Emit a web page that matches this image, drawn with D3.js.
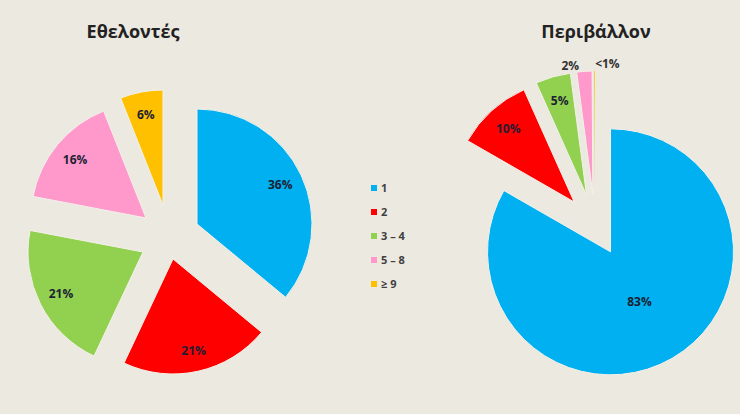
<!DOCTYPE html>
<html>
<head>
<meta charset="utf-8">
<script src="https://cdn.jsdelivr.net/npm/d3@7"></script>
<style>
  html, body { margin: 0; padding: 0; background: #ece9e1; }
  svg { display: block; }
  text { font-family: "Open Sans", "DejaVu Sans", sans-serif; }
</style>
</head>
<body>
<div id="chart"></div>
<script>
// categories (number of ...)
var categories = ["1", "2", "3 \u2013 4", "5 \u2013 8", "\u2265 9"];
var colors = ["#00b0f0", "#ff0000", "#92d050", "#ff99cc", "#ffc000"];

// series values (percent)
var volunteers = [36, 21, 21, 16, 6];
var environment = [83.3, 10.0, 4.6, 2.0, 0.1];

var titles = ["\u0395\u03b8\u03b5\u03bb\u03bf\u03bd\u03c4\u03ad\u03c2", "\u03a0\u03b5\u03c1\u03b9\u03b2\u03ac\u03bb\u03bb\u03bf\u03bd"];

var width = 740, height = 414;

var svg = d3.select("#chart").append("svg")
  .attr("width", width)
  .attr("height", height);

svg.append("rect")
  .attr("width", width)
  .attr("height", height)
  .attr("fill", "#ece9e1");

// label text like the original: whole percent, "<1%" for tiny slices
function pct(v) {
  return v < 1 ? "<1%" : Math.round(v) + "%";
}

// draws one exploded pie
function drawPie(values, opts) {
  var pie = d3.pie().sort(null).value(function(d) { return d; });
  var arcs = pie(values);

  var arc = d3.arc().innerRadius(0).outerRadius(opts.r);

  var g = svg.append("g")
    .attr("transform", "translate(" + opts.cx + "," + opts.cy + ")");

  // offset of each slice: either fixed shift or along bisector
  function shift(d, i) {
    if (opts.shift) return opts.shift[i];
    var a = (d.startAngle + d.endAngle) / 2;
    return [opts.explode * Math.sin(a), -opts.explode * Math.cos(a)];
  }

  var slice = g.selectAll(".slice")
    .data(arcs)
    .enter().append("g")
    .attr("class", "slice")
    .attr("transform", function(d, i) {
      var s = shift(d, i);
      return "translate(" + s[0] + "," + s[1] + ")";
    });

  slice.append("path")
    .attr("d", arc)
    .attr("fill", function(d, i) { return colors[i]; })
    .attr("stroke", function(d) { return d.data < 1 ? "none" : "#f4f1ea"; })
    .attr("stroke-width", 1);

  slice.append("text")
    .attr("transform", function(d, i) {
      var a = opts.labelAngle && opts.labelAngle[i] != null
        ? opts.labelAngle[i] * Math.PI / 180
        : (d.startAngle + d.endAngle) / 2;
      var rr = opts.r * opts.labelR[i];
      return "translate(" + (rr * Math.sin(a)) + "," + (-rr * Math.cos(a)) + ")";
    })
    .attr("text-anchor", "middle")
    .attr("dy", "0.35em")
    .attr("font-size", 12)
    .attr("font-weight", "bold")
    .attr("fill", function(d, i) { return opts.labelR[i] > 1 ? "#333" : "#1c1f33"; })
    .text(function(d) { return pct(d.data); });

  svg.append("text")
    .attr("x", opts.titleX)
    .attr("y", 38)
    .attr("text-anchor", "middle")
    .attr("font-size", 18)
    .attr("font-weight", "bold")
    .attr("fill", "#222")
    .text(opts.title);
}

drawPie(volunteers, {
  cx: 170, cy: 231, r: 115,
  shift: [[27, -7], [3, 28], [-27, 21], [-24, -13], [-7, -26]],
  labelR: [0.8, 0.82, 0.8, 0.8, 0.8],
  title: titles[0], titleX: 133
});

drawPie(environment, {
  cx: 595, cy: 225, r: 123,
  explode: 31,
  labelR: [0.47, 0.8, 0.8, 1.06, 1.06],
  labelAngle: [null, null, null, 350, 5.5],
  title: titles[1], titleX: 596
});

// legend
var legend = svg.append("g")
  .attr("transform", "translate(371,188)");

var item = legend.selectAll(".item")
  .data(categories)
  .enter().append("g")
  .attr("class", "item")
  .attr("transform", function(d, i) { return "translate(0," + (i * 24) + ")"; });

item.append("rect")
  .attr("x", 0)
  .attr("y", -3)
  .attr("width", 6)
  .attr("height", 6)
  .attr("fill", function(d, i) { return colors[i]; });

item.append("text")
  .attr("x", 10)
  .attr("dy", "0.35em")
  .attr("font-size", 11)
  .attr("font-weight", "bold")
  .attr("fill", "#404040")
  .text(function(d) { return d; });
</script>
</body>
</html>
